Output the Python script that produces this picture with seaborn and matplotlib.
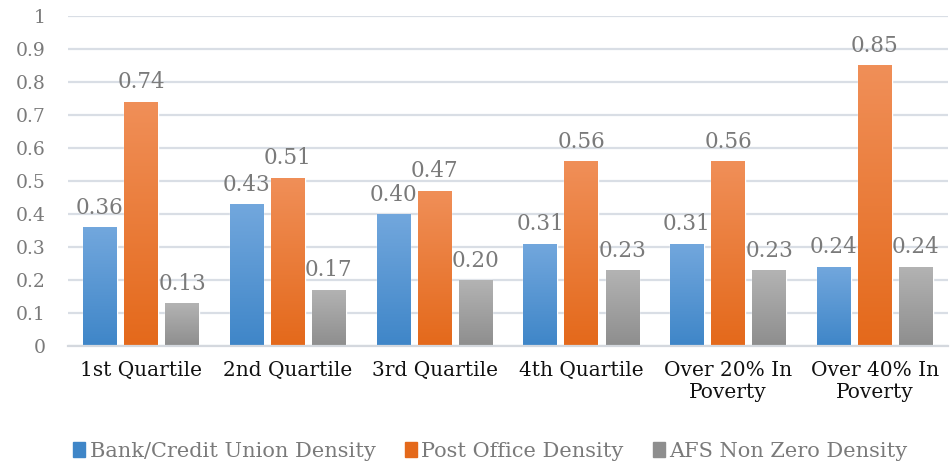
import numpy as np
import pandas as pd
import matplotlib
matplotlib.use("Agg")
import matplotlib.pyplot as plt
import seaborn as sns
from matplotlib.colors import LinearSegmentedColormap

categories = ["1st Quartile", "2nd Quartile", "3rd Quartile", "4th Quartile",
              "Over 20% In\nPoverty", "Over 40% In\nPoverty"]
series = ["Bank/Credit Union Density", "Post Office Density", "AFS Non Zero Density"]
bank = [0.36, 0.43, 0.40, 0.31, 0.31, 0.24]
post = [0.74, 0.51, 0.47, 0.56, 0.56, 0.85]
afs = [0.13, 0.17, 0.20, 0.23, 0.23, 0.24]

# (top colour, bottom colour) for the gradient fill
grads = [("#72a7dd", "#3f86c8"), ("#f08f58", "#e4691b"), ("#b3b3b3", "#8e8e8e")]

df = pd.DataFrame({
    "cat": categories * 3,
    "series": [s for s in series for _ in categories],
    "value": bank + post + afs,
})

sns.set_style("white")
plt.rcParams["font.family"] = ["DejaVu Serif"]

fig = plt.figure(figsize=(9.52, 4.68), dpi=100)
ax = fig.add_axes([0.071, 0.261, 0.925, 0.705])

palette = {s: g[1] for s, g in zip(series, grads)}
sns.barplot(data=df, x="cat", y="value", hue="series", hue_order=series,
            order=categories, palette=palette, width=0.84, gap=0.18,
            saturation=1, ax=ax, legend=False)

ax.set_ylim(0, 1)
ax.set_xlim(-0.5, 5.5)
ax.set_yticks(np.arange(0, 1.01, 0.1))
ax.set_yticklabels(["0"] + [f"{v:.1f}" for v in np.arange(0.1, 0.95, 0.1)] + ["1"])
ax.yaxis.grid(True, color="#d9dee5", linewidth=1.6)
ax.set_axisbelow(True)
for s in ["top", "right", "left"]:
    ax.spines[s].set_visible(False)
ax.spines["bottom"].set_color("#d4d8de")
ax.spines["bottom"].set_linewidth(1.6)
ax.tick_params(axis="both", length=0)
ax.tick_params(axis="y", labelsize=13.5, labelcolor="#7a7a7a", pad=16)
ax.tick_params(axis="x", labelsize=14.5, labelcolor="#111111", pad=11)
ax.set_xlabel("")
ax.set_ylabel("")

# gradient fills + value labels
for container, (top, bot) in zip(ax.containers, grads):
    cmap = LinearSegmentedColormap.from_list("g", [bot, top])
    for bar in container:
        x0, y0 = bar.get_x(), bar.get_y()
        w, h = bar.get_width(), bar.get_height()
        grad = np.linspace(0, 1, 100).reshape(-1, 1)
        im = ax.imshow(grad, cmap=cmap, origin="lower", aspect="auto",
                       extent=[x0, x0 + w, y0, y0 + h], zorder=bar.get_zorder())
        im.set_clip_path(bar)
        bar.set_facecolor("none")
    ax.bar_label(container, fmt="%.2f", padding=6, fontsize=15.5, color="#7a7a7a")

ax.set_xlim(-0.5, 5.5)
ax.set_ylim(0, 1)

handles = [plt.Rectangle((0, 0), 1, 1, color=g[1]) for g in grads]
leg = fig.legend(handles, series, loc="lower center", bbox_to_anchor=(0.515, -0.025),
                 ncol=3, frameon=False, fontsize=15, handlelength=0.6,
                 handleheight=0.7, handletextpad=0.2, columnspacing=1.4)
for t in leg.get_texts():
    t.set_color("#7a7a7a")

fig.savefig("out.png", dpi=100)
